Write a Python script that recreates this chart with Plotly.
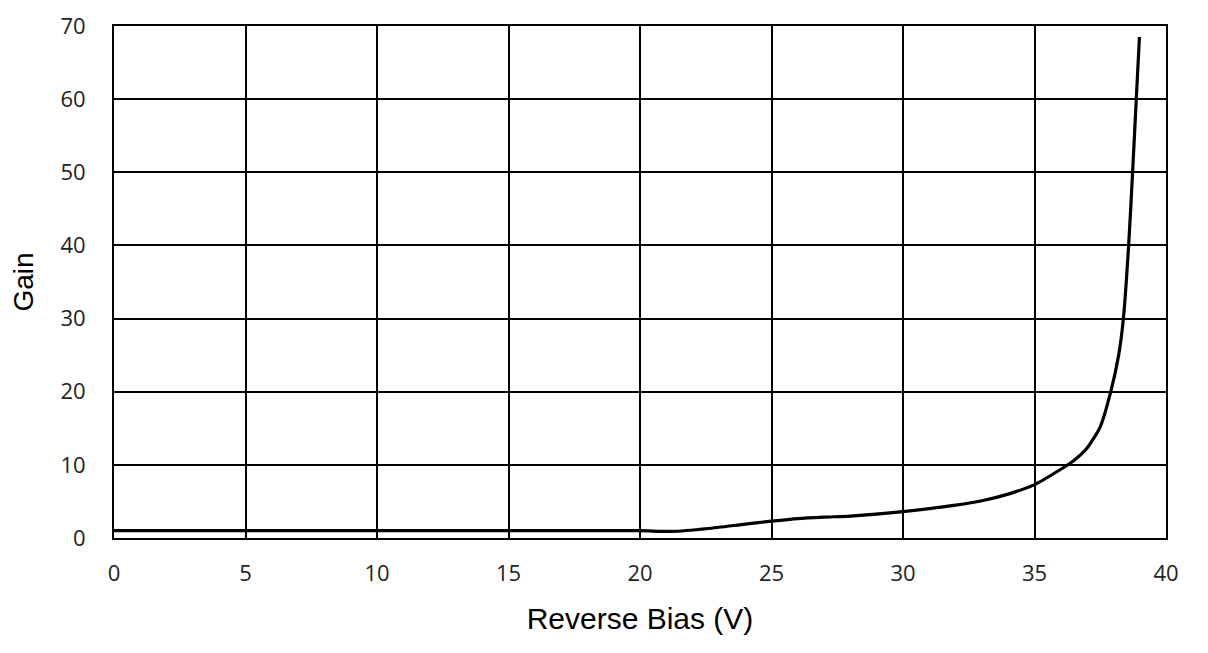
import plotly.graph_objects as go

# Reverse bias (V) vs gain
bias_v = [0, 5, 10, 15, 20, 21.2, 22.6, 24, 25, 26, 27, 28, 30, 32, 33, 34, 35, 36,
          36.5, 37, 37.5, 37.9, 38.2, 38.38, 38.58, 38.73, 38.87, 38.99]
gain = [1.0, 1.0, 1.0, 1.0, 1.0, 0.9, 1.3, 1.9, 2.3, 2.65, 2.85, 3.0, 3.6, 4.5, 5.1, 6.0,
        7.3, 9.4, 10.6, 12.3, 15.2, 20.0, 25.0, 30.0, 40.0, 50.0, 60.0, 68.5]

x_ticks = list(range(0, 41, 5))
y_ticks = list(range(0, 71, 10))

fig = go.Figure()
fig.add_trace(go.Scatter(
    x=bias_v, y=gain,
    mode='lines',
    line=dict(color='black', width=3.2, shape='spline', smoothing=0.6),
    showlegend=False,
))

axis_common = dict(
    showgrid=True, gridcolor='black', gridwidth=2,
    showline=True, linecolor='black', linewidth=2, mirror=True,
    zeroline=False, ticks='', automargin=False,
    tickfont=dict(family='Open Sans', size=22, color='#222'),
)

fig.update_xaxes(range=[0, 40], tickvals=x_ticks, title_text='Reverse Bias (V)',
                 title_font=dict(family='Liberation Sans', size=30, color='black'),
                 ticklabelstandoff=15, title_standoff=22, **axis_common)
fig.update_yaxes(range=[0, 70], tickvals=y_ticks, title_text='Gain',
                 title_font=dict(family='Liberation Sans', size=28, color='black'),
                 ticklabelstandoff=22, title_standoff=22, **axis_common)

# the page body adds an 8px margin, so the figure is sized to fit inside the window
fig.update_layout(
    width=1192, height=637,
    margin=dict(l=106, r=34, t=18, b=107),
    plot_bgcolor='white', paper_bgcolor='white',
)

fig.write_html("out.html")
